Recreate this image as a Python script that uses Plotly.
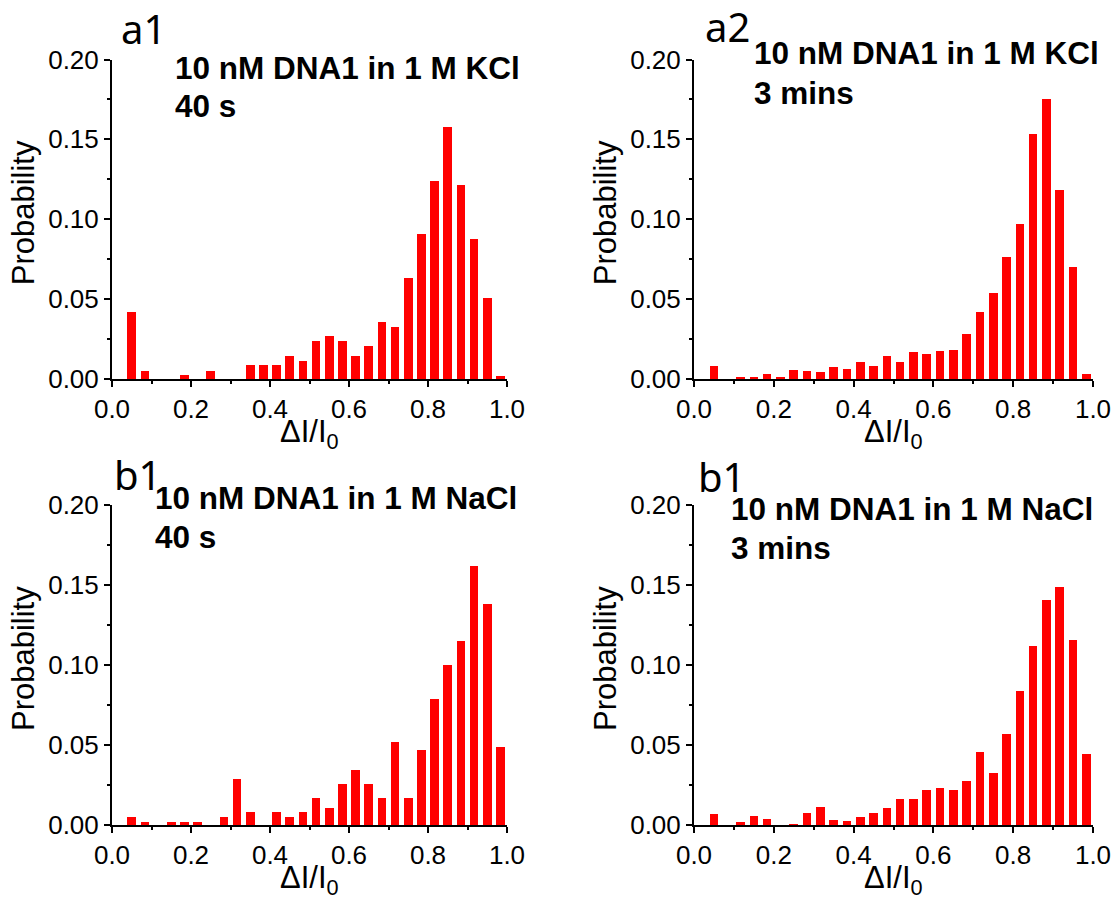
import plotly.graph_objects as go

# ---- data ----
bin_centers = [0.0167, 0.05, 0.0833, 0.1167, 0.15, 0.1833, 0.2167, 0.25, 0.2833, 0.3167,
               0.35, 0.3833, 0.4167, 0.45, 0.4833, 0.5167, 0.55, 0.5833, 0.6167, 0.65,
               0.6833, 0.7167, 0.75, 0.7833, 0.8167, 0.85, 0.8833, 0.9167, 0.95, 0.9833]

kcl_40s = [0, 0.042, 0.0055, 0, 0, 0.0027, 0, 0.0055, 0, 0, 0.0088, 0.0088, 0.0088, 0.0148,
           0.0117, 0.024, 0.027, 0.024, 0.0148, 0.0208, 0.036, 0.033, 0.0635, 0.091, 0.1245,
           0.158, 0.1215, 0.088, 0.051, 0.0023]
kcl_3min = [0, 0.0085, 0, 0.0015, 0.0015, 0.0035, 0.0015, 0.006, 0.0054, 0.0046, 0.0079,
            0.0067, 0.0112, 0.0085, 0.0146, 0.0112, 0.017, 0.0158, 0.0177, 0.0185, 0.0283,
            0.0422, 0.0539, 0.0766, 0.0976, 0.1534, 0.1759, 0.1184, 0.0706, 0.0035]
nacl_40s = [0, 0.0048, 0.0019, 0, 0.0019, 0.0019, 0.0019, 0, 0.0048, 0.0285, 0.0079, 0,
            0.0079, 0.0048, 0.0079, 0.0167, 0.0108, 0.0256, 0.0344, 0.0256, 0.0167, 0.052,
            0.017, 0.047, 0.079, 0.100, 0.115, 0.162, 0.138, 0.049]
nacl_3min = [0, 0.0067, 0, 0.0017, 0.0056, 0.004, 0, 0.0006, 0.0073, 0.0113, 0.0031, 0.0023,
             0.0048, 0.0073, 0.0104, 0.0163, 0.0163, 0.0221, 0.0229, 0.0221, 0.0273, 0.0454,
             0.0323, 0.0571, 0.0838, 0.1121, 0.1404, 0.1485, 0.1154, 0.0446]

panel_letters = ["a1", "a2", "b1", "b1"]
panel_line1 = ["10 nM DNA1 in 1 M KCl", "10 nM DNA1 in 1 M KCl",
               "10 nM DNA1 in 1 M NaCl", "10 nM DNA1 in 1 M NaCl"]
panel_line2 = ["40 s", "3 mins", "40 s", "3 mins"]
x_ticks = [0.0, 0.2, 0.4, 0.6, 0.8, 1.0]
y_ticks = [0.00, 0.05, 0.10, 0.15, 0.20]

# ---- layout (pixels) ----
W, H = 1118, 899
px_x = lambda p: p / W
px_y = lambda p: 1 - p / H

# (left, right, top, bottom) pixel boxes of plot areas
boxes = [(112, 507, 59.5, 379), (694, 1093, 59.5, 379),
         (112, 507, 505, 825), (694, 1093, 505, 825)]
series = [kcl_40s, kcl_3min, nacl_40s, nacl_3min]
letter_pos = [(143, 28), (727, 26), (137, 474), (721, 476)]
text_pos = [(173, 68, 106), (752, 53, 93), (153, 498, 537), (729, 509, 548)]

fig = go.Figure()
annotations = []
axis_font = dict(family="Liberation Sans, Arial", size=26, color="black")
title_font = dict(family="Liberation Sans, Arial", size=31, color="black")
bold_font = dict(family="Liberation Sans, Arial", size=31.5, color="black")

for i, (vals, box) in enumerate(zip(series, boxes)):
    l, r, t, b = box
    xa = "x" if i == 0 else f"x{i+1}"
    ya = "y" if i == 0 else f"y{i+1}"
    fig.add_trace(go.Bar(x=bin_centers, y=vals, width=0.0217,
                         marker=dict(color="#FF0000", line=dict(width=0)),
                         xaxis=xa, yaxis=ya, showlegend=False))
    xkey = "xaxis" if i == 0 else f"xaxis{i+1}"
    ykey = "yaxis" if i == 0 else f"yaxis{i+1}"
    fig.layout[xkey] = dict(
        domain=[px_x(l), px_x(r)], anchor=ya, range=[0, 1.0], automargin=False,
        tickvals=x_ticks, ticktext=[f"{v:.1f}" for v in x_ticks],
        ticks="outside", ticklen=6, tickwidth=2, tickcolor="black",
        showline=True, linecolor="black", linewidth=2, showgrid=False, zeroline=False,
        tickfont=axis_font, fixedrange=True,
        minor=dict(tickvals=[0.1, 0.3, 0.5, 0.7, 0.9], ticks="outside", ticklen=3,
                   tickwidth=2, tickcolor="black", showgrid=False))
    fig.layout[ykey] = dict(
        domain=[px_y(b), px_y(t)], anchor=xa, range=[0, 0.20], automargin=False,
        tickvals=y_ticks, ticktext=[f"{v:.2f}" for v in y_ticks],
        ticks="outside", ticklen=6, tickwidth=2, tickcolor="black",
        showline=True, linecolor="black", linewidth=2, showgrid=False, zeroline=False,
        tickfont=axis_font, fixedrange=True,
        minor=dict(tickvals=[0.025, 0.075, 0.125, 0.175], ticks="outside", ticklen=3,
                   tickwidth=2, tickcolor="black", showgrid=False))
    # axis titles
    annotations.append(dict(x=px_x(l - 89), y=px_y((t + b) / 2 - 6), xref="paper", yref="paper",
                            text="Probability", textangle=-90, showarrow=False,
                            xanchor="center", yanchor="middle", font=title_font))
    annotations.append(dict(x=px_x((l + r) / 2), y=px_y(b + 55), xref="paper", yref="paper",
                            text="ΔI/I<sub>0</sub>", showarrow=False,
                            xanchor="center", yanchor="middle", font=title_font))
    # panel letter
    lx, ly = letter_pos[i]
    annotations.append(dict(x=px_x(lx), y=px_y(ly), xref="paper", yref="paper",
                            text=panel_letters[i], showarrow=False,
                            xanchor="center", yanchor="middle",
                            font=dict(family="Noto Sans", size=40, color="black")))
    # panel condition text (two lines)
    tx, ty1, ty2 = text_pos[i]
    for txt, ty in ((panel_line1[i], ty1), (panel_line2[i], ty2)):
        annotations.append(dict(x=px_x(tx), y=px_y(ty), xref="paper", yref="paper",
                                text=f"<b>{txt}</b>", showarrow=False, align="left",
                                xanchor="left", yanchor="middle", font=bold_font))

fig.update_layout(width=W, height=H, margin=dict(l=0, r=0, t=0, b=0, pad=0, autoexpand=False),
                  plot_bgcolor="white", paper_bgcolor="white", showlegend=False,
                  annotations=annotations, bargap=0)
fig.write_html("out.html")
